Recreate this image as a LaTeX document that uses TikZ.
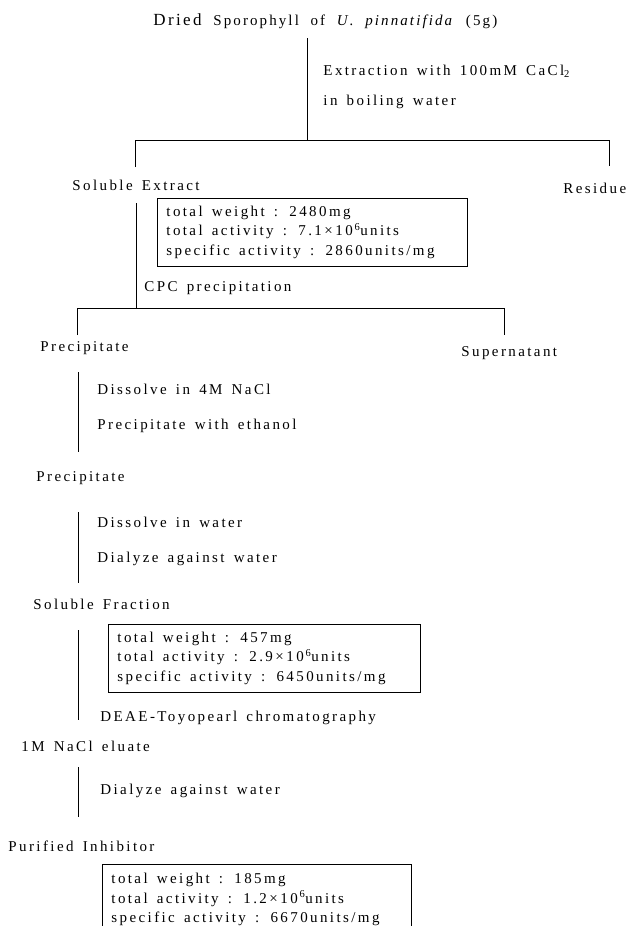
\documentclass[tikz,border=0pt]{standalone}
\usepackage{fontspec}
\setmainfont{Liberation Serif}
\newfontfamily\lbl[LetterSpace=16,WordSpace=1.5]{Liberation Serif}
\newfontfamily\ttl[LetterSpace=14,WordSpace=2]{Liberation Serif}
\newcommand{\natsp}{\spaceskip=0pt\xspaceskip=0pt\relax}
\begin{document}
\begin{tikzpicture}[x=1pt,y=-1pt,line width=0.9pt,
  lab/.style={anchor=base west,inner sep=0pt,font=\lbl\fontsize{15}{17}\selectfont},
  datbox/.style={anchor=north west,draw,inner xsep=9pt,inner ysep=7.5pt,align=left,
    font=\lbl\fontsize{15}{19.5}\selectfont}]
\path[fill=white,use as bounding box] (0,0) rectangle (628,926);
% texts
\node[lab,font=\ttl\fontsize{15}{17}\selectfont] (title) at (153,25) {{\fontsize{17}{19}\selectfont Dried} Sporophyll of \textit{U. pinnatifida} (5g)};
\node[lab] (ext1) at (323,75.5) {Extraction with 100mM CaCl\textsubscript{2}};
\node[lab] (ext2) at (323,105.5) {in boiling water};
\node[lab] (solext) at (72,190.5) {Soluble Extract};
\node[lab] (resid) at (563,193.5) {Residue};
\node[datbox,text width=292pt] (box1) at (157,198) {\natsp total weight : 2480mg\\total activity : 7.1\,×\,10\textsuperscript{\,6}units\\specific activity : 2860units/mg};
\node[lab] (cpc) at (144,291.5) {CPC precipitation};
\node[lab] (prec1) at (40,351.5) {Precipitate};
\node[lab] (super) at (461,356.5) {Supernatant};
\node[lab] (diss1) at (97,394.5) {Dissolve in 4M NaCl};
\node[lab] (pwe) at (97,429.5) {Precipitate with ethanol};
\node[lab] (prec2) at (36,481.5) {Precipitate};
\node[lab] (diss2) at (97,527.5) {Dissolve in water};
\node[lab] (dial1) at (97,562.5) {Dialyze against water};
\node[lab] (solfr) at (33,609) {Soluble Fraction};
\node[datbox,text width=294pt] (box2) at (108,624) {\natsp total weight : 457mg\\total activity : 2.9\,×\,10\textsuperscript{\,6}units\\specific activity : 6450units/mg};
\node[lab] (deae) at (100,721.5) {DEAE-Toyopearl chromatography};
\node[lab] (elu) at (21,751.5) {1M NaCl eluate};
\node[lab] (dial2) at (100,794.5) {Dialyze against water};
\node[lab] (pur) at (8,851.5) {Purified Inhibitor};
\node[datbox,draw=none,text width=291pt,minimum height=70pt,anchor=north west] (box3) at (102,864) {\natsp total weight : 185mg\\total activity : 1.2\,×\,10\textsuperscript{\,6}units\\specific activity : 6670units/mg};
\draw (box3.south west) -- (box3.north west) -- (box3.north east) -- (box3.south east);
% connector points
\coordinate (a0) at (307,38);  \coordinate (a1) at (307,140);
\coordinate (bl) at (135,140); \coordinate (br) at (609,140);
\coordinate (blt) at (135,167); \coordinate (brt) at (609,166);
\coordinate (c0) at (136,203); \coordinate (c1) at (136,308);
\coordinate (dl) at (77,308);  \coordinate (dr) at (504,308);
\coordinate (dlt) at (77,335); \coordinate (drt) at (504,335);
\coordinate (e0) at (78,372);  \coordinate (e1) at (78,452);
\coordinate (f0) at (78,512);  \coordinate (f1) at (78,583);
\coordinate (g0) at (78,630);  \coordinate (g1) at (78,720);
\coordinate (h0) at (78,767);  \coordinate (h1) at (78,817);
\draw (a0) -- (a1);
\draw (blt) -- (bl) -- (br) -- (brt);
\draw (c0) -- (c1);
\draw (dlt) -- (dl) -- (dr) -- (drt);
\draw (e0) -- (e1);
\draw (f0) -- (f1);
\draw (g0) -- (g1);
\draw (h0) -- (h1);
\end{tikzpicture}
\end{document}
